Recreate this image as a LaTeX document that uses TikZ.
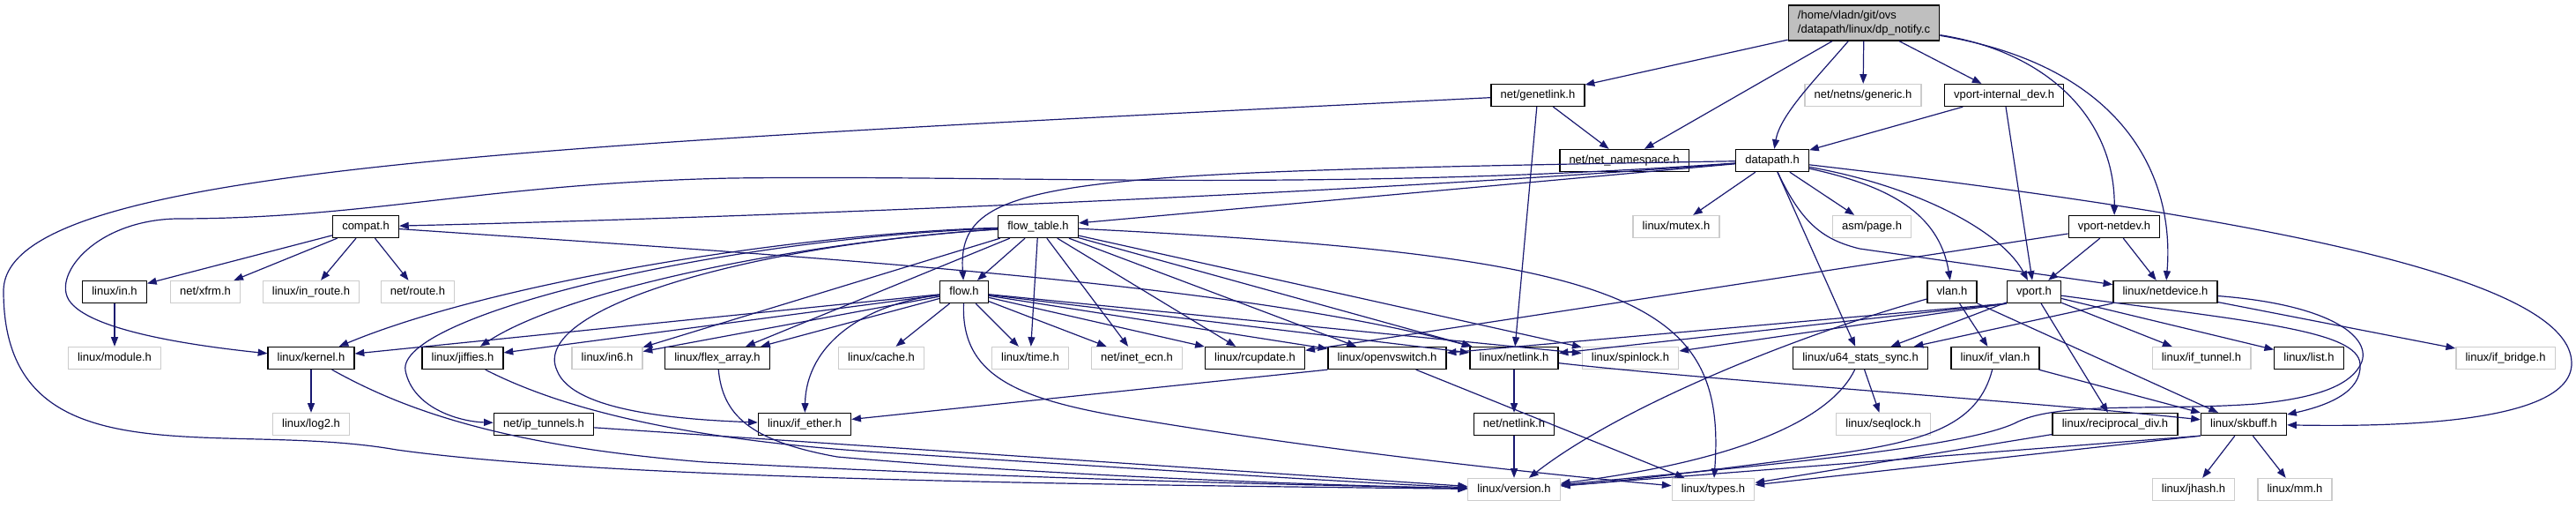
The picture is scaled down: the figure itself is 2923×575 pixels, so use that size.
\documentclass[tikz,border=0pt]{standalone}
\usepackage{fontspec}
\setmainfont{Liberation Sans}
\usepackage{tikz}
\usetikzlibrary{arrows.meta, positioning}
\usepackage{xcolor}
\definecolor{EdgeBlue}{RGB}{25, 25, 112}
\definecolor{RootGray}{RGB}{191, 191, 191}
\definecolor{SysGray}{RGB}{204, 204, 204}
\tikzset{
  incbox/.style={rectangle, draw=#1, fill=white, line width=1pt,
                 minimum height=18.75pt, inner xsep=8pt, inner ysep=2pt,
                 text height=7.2pt, text depth=2pt,
                 font=\fontsize{9.75}{11.5}\selectfont, text=black},
  incbox/.default=black,
  sysbox/.style={incbox=SysGray},
  rootbox/.style={incbox, fill=RootGray, align=left, minimum height=30pt,
                  text height=, text depth=},
  arr/.style={-{Triangle[length=8pt, width=6pt]}, line width=0.9pt, color=EdgeBlue},
}

\begin{document}
\begin{tikzpicture}[x=0.75pt, y=-0.75pt]
      \useasboundingbox (0,0) rectangle (2923,575);

      \node[rootbox] (dp) at (2115,26) {/home/vladn/git/ovs\\/datapath/linux/dp\_notify.c};

      \node[incbox] (genetlink) at (1745,108) {net/genetlink.h};
      \node[sysbox] (netnsgen)  at (2114,108) {net/netns/generic.h};
      \node[incbox] (vintdev)   at (2274,108) {vport-internal\_dev.h};

      \node[incbox] (netns)    at (1843,182) {net/net\_namespace.h};
      \node[incbox] (datapath) at (2011,182) {datapath.h};

      \node[incbox] (compat)    at (415,257)  {compat.h};
      \node[incbox] (flowtable) at (1178,257) {flow\_table.h};
      \node[sysbox] (mutex)     at (1902,257) {linux/mutex.h};
      \node[sysbox] (page)      at (2124,257) {asm/page.h};
      \node[incbox] (vnetdev)   at (2399,257) {vport-netdev.h};

      \node[incbox] (in)        at (130,331)  {linux/in.h};
      \node[sysbox] (xfrm)      at (233,331)  {net/xfrm.h};
      \node[sysbox] (inroute)   at (353,331)  {linux/in\_route.h};
      \node[sysbox] (route)     at (474,331)  {net/route.h};
      \node[incbox] (flow)      at (1094,331) {flow.h};
      \node[incbox] (vlan)      at (2215,331) {vlan.h};
      \node[incbox] (vport)     at (2308,331) {vport.h};
      \node[incbox] (netdevice) at (2457,331) {linux/netdevice.h};

      \node[sysbox] (module)   at (130,406)  {linux/module.h};
      \node[incbox] (kernel)   at (353,406)  {linux/kernel.h};
      \node[incbox] (jiffies)  at (525,406)  {linux/jiffies.h};
      \node[sysbox] (in6)      at (689,406)  {linux/in6.h};
      \node[incbox] (flexarr)  at (814,406)  {linux/flex\_array.h};
      \node[sysbox] (cache)    at (1000,406) {linux/cache.h};
      \node[sysbox] (time)     at (1169,406) {linux/time.h};
      \node[sysbox] (inetecn)  at (1290,406) {net/inet\_ecn.h};
      \node[incbox] (rcupdate) at (1424,406) {linux/rcupdate.h};
      \node[incbox] (ovs)      at (1574,406) {linux/openvswitch.h};
      \node[incbox] (nlink)    at (1718,406) {linux/netlink.h};
      \node[sysbox] (spinlock) at (1850,406) {linux/spinlock.h};
      \node[incbox] (u64)      at (2111,406) {linux/u64\_stats\_sync.h};
      \node[incbox] (ifvlan)   at (2264,406) {linux/if\_vlan.h};
      \node[sysbox] (iftunnel) at (2498,406) {linux/if\_tunnel.h};
      \node[incbox] (list)     at (2620,406) {linux/list.h};
      \node[sysbox] (ifbridge) at (2843,406) {linux/if\_bridge.h};

      \node[sysbox] (log2)       at (353,481)  {linux/log2.h};
      \node[incbox] (iptun)      at (617,481)  {net/ip\_tunnels.h};
      \node[incbox] (ifether)    at (913,481)  {linux/if\_ether.h};
      \node[incbox] (netnetlink) at (1718,481) {net/netlink.h};
      \node[sysbox] (seqlock)    at (2137,481) {linux/seqlock.h};
      \node[incbox] (recip)      at (2400,481) {linux/reciprocal\_div.h};
      \node[incbox] (skbuff)     at (2546,481) {linux/skbuff.h};

      \node[sysbox] (version) at (1718,555) {linux/version.h};
      \node[sysbox] (types)   at (1944,555) {linux/types.h};
      \node[sysbox] (jhash)   at (2489,555) {linux/jhash.h};
      \node[sysbox] (mm)      at (2604,555) {linux/mm.h};

      % dp_notify.c
      \draw[arr] (dp) -- (genetlink);
      \draw[arr] (dp) -- (netnsgen);
      \draw[arr] (dp) -- (vintdev);
      \draw[arr] (dp) -- (netns);
      \draw[arr] (dp) .. controls (2060,90) and (2020,130) .. (datapath);
      \draw[arr] (dp) .. controls (2330,60) and (2400,140) .. (vnetdev);
      \draw[arr] (dp) .. controls (2410,75) and (2468,200) .. (netdevice);

      \draw[arr] (genetlink) -- (netns);
      \draw[arr] (genetlink) -- (nlink);
      \draw[arr] (genetlink) .. controls (600,165) and (4,190) .. (4,330)
                 .. controls (4,550) and (250,475) .. (450,510)
                 .. controls (700,545) and (1300,550) .. (version);

      \draw[arr] (vintdev) -- (datapath);
      \draw[arr] (vintdev) -- (vport);

      % datapath.h
      \draw[arr] (datapath) .. controls (1500,222) and (800,248) .. (compat);
      \draw[arr] (datapath) -- (flowtable);
      \draw[arr] (datapath) .. controls (1200,196) and (1085,200) .. (flow);
      \draw[arr] (datapath) .. controls (1500,218) and (1150,198) .. (830,202)
                 .. controls (550,208) and (420,248) .. (200,248)
                 .. controls (110,250) and (60,310) .. (78,340)
                 .. controls (100,375) and (220,392) .. (kernel);
      \draw[arr] (datapath) -- (mutex);
      \draw[arr] (datapath) -- (page);
      \draw[arr] (datapath) -- (u64);
      \draw[arr] (datapath) .. controls (2140,210) and (2200,240) .. (vlan);
      \draw[arr] (datapath) .. controls (2170,210) and (2270,260) .. (vport);
      \draw[arr] (datapath) .. controls (2045,255) and (2070,272) .. (2110,282) -- (netdevice);
      \draw[arr] (datapath) .. controls (2600,250) and (2918,320) .. (2918,412)
                 .. controls (2918,480) and (2720,484) .. (skbuff);

      \draw[arr] (compat) -- (in);
      \draw[arr] (compat) -- (xfrm);
      \draw[arr] (compat) -- (inroute);
      \draw[arr] (compat) -- (route);
      \draw[arr] (compat) .. controls (900,290) and (1400,320) .. (nlink);
      \draw[arr] (in) -- (module);

      % flow_table.h
      \draw[arr] (flowtable) -- (flow);
      \draw[arr] (flowtable) .. controls (900,265) and (560,320) .. (kernel);
      \draw[arr] (flowtable) .. controls (900,275) and (640,330) .. (jiffies);
      \draw[arr] (flowtable) .. controls (800,272) and (450,360) .. (460,420)
                 .. controls (468,462) and (520,478) .. (iptun);
      \draw[arr] (flowtable) .. controls (850,278) and (600,350) .. (632,420)
                 .. controls (650,468) and (780,476) .. (ifether);
      \draw[arr] (flowtable) -- (in6);
      \draw[arr] (flowtable) -- (flexarr);
      \draw[arr] (flowtable) -- (time);
      \draw[arr] (flowtable) -- (inetecn);
      \draw[arr] (flowtable) -- (rcupdate);
      \draw[arr] (flowtable) -- (ovs);
      \draw[arr] (flowtable) -- (nlink);
      \draw[arr] (flowtable) -- (spinlock);
      \draw[arr] (flowtable) .. controls (1850,290) and (1960,340) .. (types);

      % flow.h
      \draw[arr] (flow) -- (cache);
      \draw[arr] (flow) -- (kernel);
      \draw[arr] (flow) -- (jiffies);
      \draw[arr] (flow) -- (in6);
      \draw[arr] (flow) -- (flexarr);
      \draw[arr] (flow) .. controls (980,345) and (915,390) .. (ifether);
      \draw[arr] (flow) -- (time);
      \draw[arr] (flow) -- (inetecn);
      \draw[arr] (flow) -- (rcupdate);
      \draw[arr] (flow) -- (ovs);
      \draw[arr] (flow) -- (nlink);
      \draw[arr] (flow) -- (spinlock);
      \draw[arr] (flow) .. controls (1090,430) and (1160,455) .. (1300,477)
                 .. controls (1550,518) and (1800,542) .. (types);

      \draw[arr] (vnetdev) -- (vport);
      \draw[arr] (vnetdev) -- (netdevice);
      \draw[arr] (vnetdev) -- (rcupdate);

      % vlan.h, vport.h, netdevice.h
      \draw[arr] (vlan) -- (ifvlan);
      \draw[arr] (vlan) -- (skbuff);
      \draw[arr] (vlan) .. controls (2040,380) and (1840,460) .. (version);

      \draw[arr] (vport.south west) -- (ovs);
      \draw[arr] (vport.south west) -- (nlink);
      \draw[arr] (vport.south west) -- (spinlock);
      \draw[arr] (vport) -- (u64);
      \draw[arr] (vport) -- (recip);
      \draw[arr] (vport) -- (iftunnel);
      \draw[arr] (vport) -- (list);
      \draw[arr] (vport) .. controls (2560,365) and (2676,375) .. (2678,413)
                 .. controls (2680,445) and (2640,460) .. (skbuff);

      \draw[arr] (netdevice) -- (ifbridge);
      \draw[arr] (netdevice) -- (u64);
      \draw[arr] (netdevice) .. controls (2640,345) and (2690,380) .. (2680,410)
                 .. controls (2668,440) and (2620,452) .. (2560,458)
                 .. controls (2450,466) and (2340,455) .. (2290,478)
                 .. controls (2230,510) and (1950,532) .. (version);

      % lower rows
      \draw[arr] (ovs.south west) -- (ifether);
      \draw[arr] (ovs) -- (types);
      \draw[arr] (nlink) -- (netnetlink);
      \draw[arr] (nlink) .. controls (1950,432) and (2300,455) .. (skbuff);
      \draw[arr] (netnetlink) -- (version);

      \draw[arr] (kernel) -- (log2);
      \draw[arr] (kernel) .. controls (450,460) and (560,505) .. (800,524)
                 .. controls (1200,545) and (1500,550) .. (version);
      \draw[arr] (jiffies) .. controls (650,470) and (800,500) .. (1000,513)
                 .. controls (1300,532) and (1550,548) .. (version);
      \draw[arr] (flexarr) .. controls (820,470) and (850,500) .. (950,518)
                 .. controls (1200,540) and (1500,550) .. (version);
      \draw[arr] (iptun) -- (version);

      \draw[arr] (u64) -- (seqlock);
      \draw[arr] (u64) .. controls (2080,470) and (1990,520) .. (version);
      \draw[arr] (ifvlan) -- (skbuff);
      \draw[arr] (ifvlan) .. controls (2245,480) and (2190,500) .. (2080,515)
                 .. controls (1950,532) and (1850,545) .. (version);

      \draw[arr] (recip) -- (types);
      \draw[arr] (skbuff) -- (jhash);
      \draw[arr] (skbuff) -- (mm);
      \draw[arr] (skbuff.south west) -- (types);
      \draw[arr] (skbuff.south west) -- (version);
    \end{tikzpicture}
\end{document}
